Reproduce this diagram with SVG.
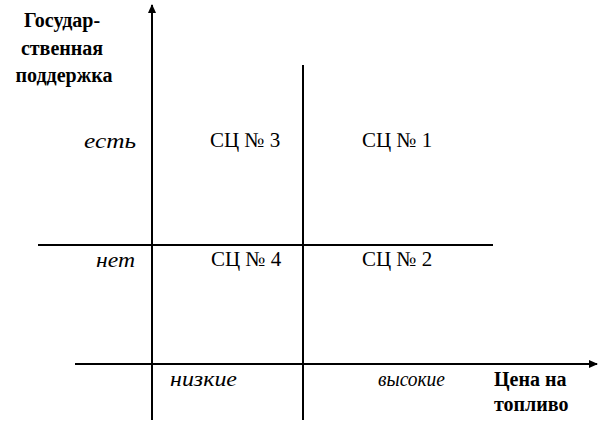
<svg xmlns="http://www.w3.org/2000/svg" width="599" height="421" viewBox="0 0 599 421">
<defs>
<marker id="ah" markerWidth="10" markerHeight="10" refX="8" refY="5" orient="auto" markerUnits="userSpaceOnUse">
<path d="M0,1 L9,5 L0,9 Z" fill="#000"/>
</marker>
</defs>
<g id="connectors" stroke="#000" stroke-width="2" fill="none">
<line x1="152" y1="420" x2="152" y2="5" marker-end="url(#ah)"/>
<line x1="75" y1="364" x2="597" y2="364" marker-end="url(#ah)"/>
<line x1="303" y1="65" x2="303" y2="420"/>
<line x1="38" y1="245" x2="493" y2="245"/>
</g>
<g id="y-label"><text font-family="Liberation Serif" font-size="20" font-weight="bold" text-anchor="middle"><tspan x="62" y="27">Государ-</tspan><tspan x="62" y="55">ственная</tspan><tspan x="64" y="82">поддержка</tspan></text></g>
<g id="x-label"><text font-family="Liberation Serif" font-size="20" font-weight="bold"><tspan x="494" y="386">Цена на</tspan><tspan x="494" y="411">топливо</tspan></text></g>
<g id="yes"><text font-family="Liberation Serif" font-size="20" font-style="italic" x="84" y="148" textLength="52" lengthAdjust="spacingAndGlyphs">есть</text></g>
<g id="no"><text font-family="Liberation Serif" font-size="20" font-style="italic" x="96" y="267" textLength="39" lengthAdjust="spacingAndGlyphs">нет</text></g>
<g id="low"><text font-family="Liberation Serif" font-size="20" font-style="italic" x="170" y="386" textLength="67" lengthAdjust="spacingAndGlyphs">низкие</text></g>
<g id="high"><text font-family="Liberation Serif" font-size="20" font-style="italic" x="378" y="386" textLength="67" lengthAdjust="spacingAndGlyphs">высокие</text></g>
<g id="sc3"><text font-family="Liberation Serif" font-size="21" x="210" y="147">СЦ № 3</text></g>
<g id="sc1"><text font-family="Liberation Serif" font-size="21" x="362" y="147">СЦ № 1</text></g>
<g id="sc4"><text font-family="Liberation Serif" font-size="21" x="211" y="266">СЦ № 4</text></g>
<g id="sc2"><text font-family="Liberation Serif" font-size="21" x="362" y="266">СЦ № 2</text></g>
</svg>
